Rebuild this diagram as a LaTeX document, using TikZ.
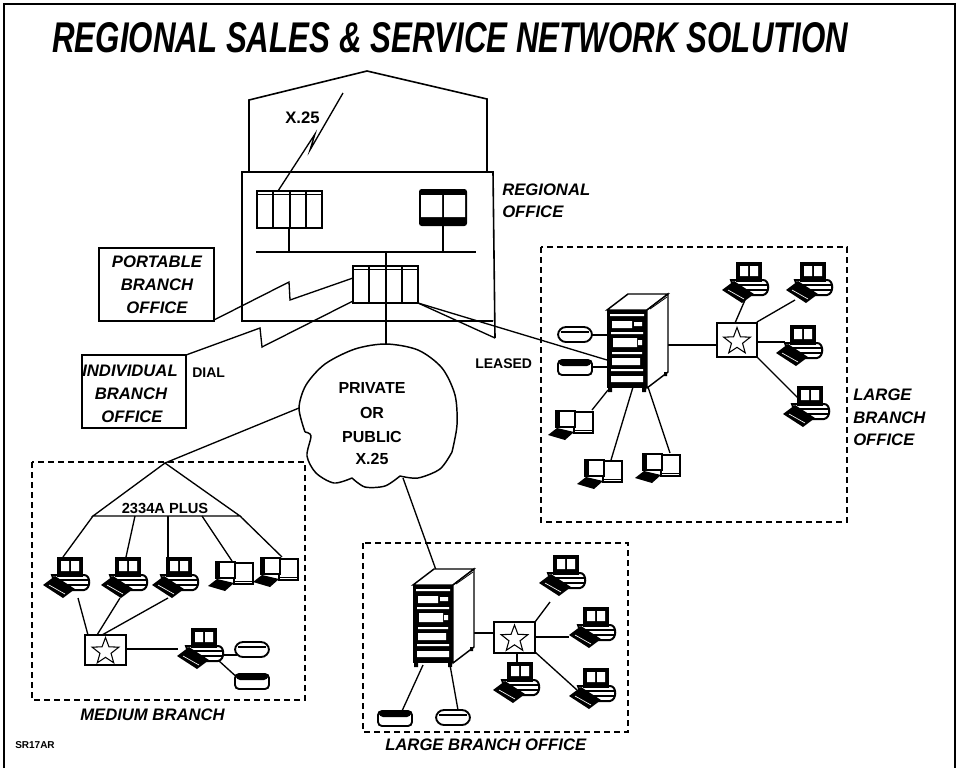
\documentclass[tikz,border=0pt]{standalone}
\usepackage{fontspec}
\setmainfont{Liberation Sans}
\usetikzlibrary{shapes.geometric}
\begin{document}
\begin{tikzpicture}[x=0.75pt,y=-0.75pt,
  wire/.style={line width=1pt},
  wall/.style={line width=1.2pt},
  group/.style={line width=1.1pt, dash pattern=on 4.5pt off 3pt},
  lab/.style={font=\fontsize{12.5}{14}\selectfont\bfseries\itshape, inner sep=0pt},
  tag/.style={font=\fontsize{11}{13}\selectfont\bfseries, inner sep=0pt},
  hubbox/.style={draw, line width=1pt, fill=white, inner sep=0pt},
  hubstar/.style={star, star points=5, star point ratio=2.4, draw, line width=0.8pt, minimum size=21pt, inner sep=0pt},
  % desktop terminal with system unit and keyboard
  pcset/.pic={
    \draw[line width=1.5pt, fill=white] (9,18) -- (41,18) .. controls (48,18) and (48,32) .. (41,33) -- (14,33) -- cycle;
    \draw[line width=1pt] (12,23) -- (45,23) (13,28) -- (45,28);
    \fill (14,0) rectangle (40,20);
    \fill[white] (18,4) rectangle (26,14) (28,4) rectangle (36,14);
    \fill (0,28) -- (12,19) -- (32,32) -- (20,41) -- cycle;
    \draw[white, line width=0.5pt] (6,28) -- (22,37);
  },
  % open monitor with side box and keyboard
  termset/.pic={
    \draw[line width=1pt, fill=white] (26,2) rectangle (45,23);
    \draw[line width=0.6pt] (27,20) -- (44,20);
    \draw[line width=1.8pt, fill=white] (8,1) rectangle (27,17);
    \fill (8,1) rectangle (12,17);
    \fill (0,25) -- (9,18) -- (26,22) -- (17,30) -- cycle;
  },
  diskunit/.pic={
    \draw[line width=1.4pt, fill=white, rounded corners=6] (0,0) rectangle (34,15);
    \draw[line width=0.8pt] (3,5) -- (31,5);
  },
  modemunit/.pic={
    \draw[line width=1.4pt, fill=white, rounded corners=3] (0,0) rectangle (34,15);
    \fill[rounded corners=3] (1,0) rectangle (33,6);
  },
  % cabinet: front face 40 x 78, seen from the right
  cabinet/.pic={
    \draw[line width=1.1pt, fill=white] (0,0) -- (21,-16) -- (61,-16) -- (40,0) -- cycle;
    \draw[line width=1.1pt, fill=white] (40,0) -- (61,-16) -- (61,62) -- (40,78) -- cycle;
    \draw[line width=0.6pt] (43,-1) -- (60,-13);
    \fill (0,0) rectangle (40,78);
    \fill[white] (3,4) rectangle (37,6)
                 (5,11) rectangle (25,18) (27,12) rectangle (35,16)
                 (4,22) rectangle (36,24)
                 (6,28) rectangle (30,37) (31,30) rectangle (35,35)
                 (5,42) rectangle (35,44)
                 (5,48) rectangle (33,55)
                 (4,59) rectangle (36,61)
                 (4,66) rectangle (36,72);
    \fill (1,78) rectangle (5,82) (35,78) rectangle (39,82) (57,62) rectangle (60,66);
  },
  % four-slot controller
  bayunit/.pic={
    \draw[line width=1.2pt, fill=white] (0,0) rectangle (65,37);
    \draw[line width=0.6pt] (0,3) -- (65,3);
    \draw[line width=0.9pt] (16,0) -- (16,37) (33,0) -- (33,37) (49,0) -- (49,37);
  },
  darkunit/.pic={
    \fill[rounded corners=2] (0,0) rectangle (48,37);
    \fill[white] (2,6) rectangle (23,28) (25,6) rectangle (46,28);
  }
]
\useasboundingbox (0,0) rectangle (960,768);

% frame and title
\draw[line width=1pt] (4,768) -- (4,4) -- (955,4) -- (955,768);
\node[anchor=base west, inner sep=0pt] (title) at (52,52)
  {\resizebox{597pt}{22.5pt}{\bfseries\itshape REGIONAL SALES \& SERVICE NETWORK SOLUTION}};

% ---------------- regional office building ----------------
\draw[wall] (249,172) -- (249,100) -- (367,71) -- (487,99) -- (487,172);
\draw[wall] (493,321) -- (242,321) -- (242,172) -- (493,172) -- (495,338);

\coordinate (bus-w) at (256,252);
\coordinate (bus-e) at (476,252);
\coordinate (bus-c) at (386,252);
\coordinate (cloud-n) at (386,345);
\draw[wire] (bus-w) -- (bus-e);
\draw[wire] (bus-c) -- (cloud-n);
\draw[wire] (289,228) -- (289,252);
\draw[wire] (443,226) -- (443,252);

\pic (bayA) at (257,191) {bayunit};
\pic (bayB) at (353,266) {bayunit};
\pic (host) at (419,189) {darkunit};

\coordinate (bayB-se) at (418,303);
\coordinate (wall-foot) at (495,338);
\draw[wire] (bayB-se) -- (wall-foot);

% X.25 link out of the building
\coordinate (x25-top) at (343,93);
\coordinate (bayA-n) at (278,191);
\draw[wire] (x25-top) -- (310,150) -- (315,134) -- (bayA-n);
\node[tag, font=\fontsize{12.5}{14}\selectfont\bfseries, anchor=base west] (x25lab) at (285,123) {X.25};

\node[lab, anchor=base west] (reg1) at (502,195) {REGIONAL};
\node[lab, anchor=base west] (reg2) at (502,217) {OFFICE};

% portable and individual branch offices (dial)
\draw[line width=1.1pt] (99,248) rectangle (214,321);
\node[lab] (pb1) at (157,262) {PORTABLE};
\node[lab] (pb2) at (157,285) {BRANCH};
\node[lab] (pb3) at (157,308) {OFFICE};
\coordinate (pb-se) at (214,320);
\coordinate (bayB-w1) at (353,278);
\draw[wire] (pb-se) -- (289,282) -- (290,300) -- (bayB-w1);

\draw[line width=1.1pt] (82,355) rectangle (186,428);
\node[lab] (ib1) at (130,371) {INDIVIDUAL};
\node[lab] (ib2) at (131,394) {BRANCH};
\node[lab] (ib3) at (132,417) {OFFICE};
\coordinate (ib-ne) at (186,355);
\coordinate (bayB-w2) at (353,301);
\draw[wire] (ib-ne) -- (260,328) -- (262,347) -- (bayB-w2);
\node[tag, font=\fontsize{10.5}{12}\selectfont\bfseries, anchor=base west] (dial) at (192,377) {DIAL};

% ---------------- X.25 cloud ----------------
\draw[line width=1.1pt] plot[smooth] coordinates {(305,432) (299,408) (306,385) (325,364) (355,349) (386,344) (418,350) (442,368) (455,395) (457,425) (452,452)};
\draw[line width=1.1pt] plot[smooth] coordinates {(452,452) (440,469) (418,478) (400,476)};
\draw[line width=1.1pt] plot[smooth] coordinates {(400,476) (385,486) (365,487) (352,478)};
\draw[line width=1.1pt] plot[smooth] coordinates {(352,478) (334,483) (316,473) (307,456) (311,436) (305,432)};
\node[tag, font=\fontsize{12}{14}\selectfont\bfseries, anchor=base] (c1) at (372,393) {PRIVATE};
\node[tag, font=\fontsize{12}{14}\selectfont\bfseries, anchor=base] (c2) at (372,418) {OR};
\node[tag, font=\fontsize{12}{14}\selectfont\bfseries, anchor=base] (c3) at (372,442) {PUBLIC};
\node[tag, font=\fontsize{12}{14}\selectfont\bfseries, anchor=base] (c4) at (372,464) {X.25};

% ---------------- large branch office (right) ----------------
\draw[group] (541,247) rectangle (847,522);
\node[lab, anchor=base west] (lr1) at (853,400) {LARGE};
\node[lab, anchor=base west] (lr2) at (853,423) {BRANCH};
\node[lab, anchor=base west] (lr3) at (853,445) {OFFICE};

\coordinate (srvR-lease) at (607,360);
\draw[wire] (bayB-se) -- (srvR-lease);
\node[tag, font=\fontsize{10.5}{12}\selectfont\bfseries, anchor=base west] (leased) at (475,368) {LEASED};

\draw[wire] (592,335) -- (607,335);
\draw[wire] (592,367) -- (607,367);
\draw[wire] (668,345) -- (717,345);
\draw[wire] (608,390) -- (592,410);
\draw[wire] (633,387) -- (611,460);
\draw[wire] (648,387) -- (670,453);
\pic (srvR) at (607,310) {cabinet};
\pic (dskR) at (558,327) {diskunit};
\pic (mdmR) at (558,360) {modemunit};

\node[hubbox, minimum width=30pt, minimum height=25.5pt] (hubR) at (737,340) {};
\node[hubstar] (starR) at (737,341.5) {};
\draw[wire] (735,323) -- (745,300);
\draw[wire] (757,322) -- (795,300);
\draw[wire] (757,342) -- (785,342);
\draw[wire] (757,357) -- (798,398);
\pic (pcRa) at (722,262) {pcset};
\pic (pcRb) at (786,262) {pcset};
\pic (pcRc) at (776,325) {pcset};
\pic (pcRd) at (783,386) {pcset};
\pic (tmR1) at (548,410) {termset};
\pic (tmR2) at (577,459) {termset};
\pic (tmR3) at (635,453) {termset};

% ---------------- medium branch ----------------
\draw[group] (32,462) rectangle (305,700);
\node[lab, anchor=base west] (mb) at (80,720) {MEDIUM BRANCH};

\coordinate (cloud-w) at (299,408);
\coordinate (apex) at (165,463);
\coordinate (mbus-w) at (93,516);
\coordinate (mbus-e) at (240,516);
\draw[wire] (cloud-w) -- (apex);
\draw[wire] (mbus-w) -- (apex) -- (mbus-e) -- cycle;
\node[tag, font=\fontsize{11}{13}\selectfont\bfseries, anchor=base] (plus) at (165,513) {2334A PLUS};
\draw[wire] (mbus-w) -- (63,557);
\draw[wire] (135,516) -- (126,557);
\draw[wire] (168,516) -- (168,557);
\draw[wire] (202,516) -- (232,561);
\draw[wire] (mbus-e) -- (282,557);
\draw[wire] (78,598) -- (88,635);
\draw[wire] (120,598) -- (97,635);
\draw[wire] (168,598) -- (102,635);
\draw[wire] (126,649) -- (178,649);
\draw[wire] (222,655) -- (237,655);
\draw[wire] (218,660) -- (240,680);
\pic (pcM1) at (43,557) {pcset};
\pic (pcM2) at (101,557) {pcset};
\pic (pcM3) at (152,557) {pcset};
\pic (tmM4) at (208,561) {termset};
\pic (tmM5) at (253,557) {termset};
\node[hubbox, minimum width=30.75pt, minimum height=22.5pt] (hubM) at (105.5,650) {};
\node[hubstar] (starM) at (105.5,651.5) {};
\pic (pcM6) at (177,628) {pcset};
\pic (dskM) at (235,642) {diskunit};
\pic (mdmM) at (235,674) {modemunit};

% ---------------- large branch office (bottom) ----------------
\draw[group] (363,543) rectangle (628,732);
\node[lab, anchor=base west] (lb) at (385,750) {LARGE BRANCH OFFICE};

\coordinate (cloud-s) at (403,478);
\coordinate (srvB-top) at (436,570);
\draw[wire] (cloud-s) -- (srvB-top);
\draw[wire] (474,633) -- (494,633);
\draw[wire] (423,665) -- (402,711);
\draw[wire] (450,665) -- (458,710);
\pic (srvB) at (413,585) {cabinet};
\pic (mdmB) at (378,711) {modemunit};
\pic (dskB) at (436,710) {diskunit};

\node[hubbox, minimum width=30.75pt, minimum height=23.25pt] (hubB) at (514.5,637.5) {};
\node[hubstar] (starB) at (514.5,639) {};
\draw[wire] (535,622) -- (550,602);
\draw[wire] (535,637) -- (569,637);
\draw[wire] (535,652) -- (577,690);
\draw[wire] (517,653) -- (517,663);
\pic (pcB1) at (539,555) {pcset};
\pic (pcB2) at (569,607) {pcset};
\pic (pcB3) at (569,668) {pcset};
\pic (pcB4) at (493,662) {pcset};

\node[tag, font=\fontsize{7.5}{9}\selectfont\bfseries, anchor=base west] (code) at (15,748) {SR17AR};
\end{tikzpicture}
\end{document}
